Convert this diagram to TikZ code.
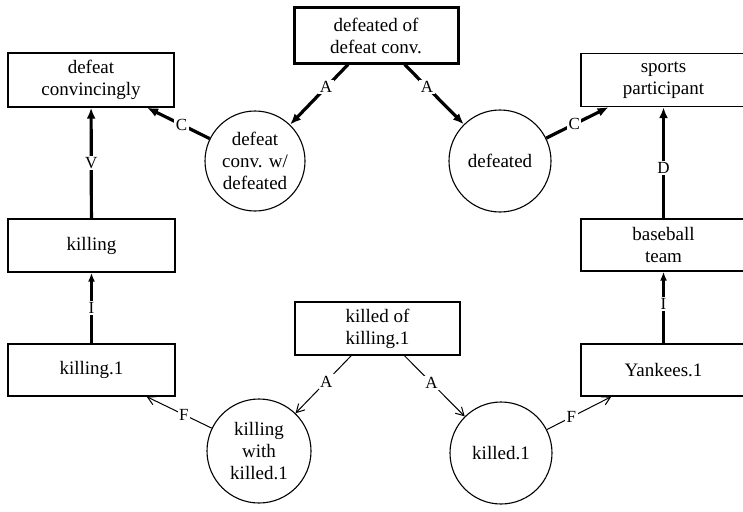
\documentclass[tikz,border=0pt]{standalone}
\usepackage{fontspec}
\setmainfont{Liberation Serif}
\usetikzlibrary{arrows.meta}
\begin{document}
\begin{tikzpicture}[x=1pt,y=-1pt,
  txt/.style={font=\fontsize{19}{22}\selectfont, align=center},
  box/.style={txt, draw, line width=1.4pt, inner sep=0pt, rectangle},
  circ/.style={txt, draw, line width=1.1pt, circle, inner sep=0pt},
  lab/.style={fill=white, inner sep=1.5pt, font=\fontsize{17}{17}\selectfont},
  heavy/.style={line width=3.2pt, -{Latex[length=11pt,width=9pt]}},
  medium/.style={line width=2.2pt, -{Latex[length=9pt,width=7pt]}},
  light/.style={line width=1pt, -{Straight Barb[length=8pt,width=9pt]}}
]
\useasboundingbox (0,0) rectangle (743,511);

% upper graph
\node[box, line width=3pt, minimum width=164pt, minimum height=55pt] (top) at (376,35.5) {defeated of\\defeat conv.};
\node[box, minimum width=166pt, minimum height=54pt] (dc) at (91,80) {defeat\\convincingly};
\node[box, minimum width=165pt, minimum height=53pt] (sp) at (663.5,80) {sports\\participant};
\node[circ, minimum size=100pt] (c1) at (255,161) {defeat\\conv. w/\\defeated};
\node[circ, minimum size=102pt] (c2) at (500,161) {defeated};
\node[box, minimum width=167pt, minimum height=53pt] (kl) at (91.5,245.5) {killing};
\node[box, minimum width=165pt, minimum height=52pt] (bt) at (663.5,245) {baseball\\team};

% lower graph
\node[box, minimum width=165pt, minimum height=53pt] (kk) at (377.5,328.5) {killed of\\killing.1};
\node[box, minimum width=167pt, minimum height=52pt] (k1) at (91.5,370) {killing.1};
\node[box, minimum width=165pt, minimum height=52pt] (y1) at (663.5,370) {Yankees.1};
\node[circ, minimum size=104pt] (c3) at (259,451) {killing\\with\\killed.1};
\node[circ, minimum size=102pt] (c4) at (501,453) {killed.1};

% connectors of the upper graph
\draw[heavy] (top) -- node[lab, pos=0.38] {A} (c1);
\draw[heavy] (top) -- node[lab, pos=0.38] {A} (c2);
\draw[heavy] (c1) -- node[lab, pos=0.45] {C} (dc);
\draw[heavy] (c2) -- node[lab, pos=0.45] {C} (sp);
\draw[heavy] (kl) -- node[lab, pos=0.5] {V} (dc);
\draw[heavy] (bt) -- node[lab, pos=0.45] {D} (sp);

% connectors of the lower graph
\draw[medium] (k1) -- node[lab, pos=0.5] {I} (kl);
\draw[medium] (y1) -- node[lab, pos=0.55] {I} (bt);
\draw[light] (kk) -- node[lab, pos=0.45] {A} (c3);
\draw[light] (kk) -- node[lab, pos=0.45] {A} (c4);
\draw[light] (c3) -- node[lab, pos=0.43] {F} (k1);
\draw[light] (c4) -- node[lab, pos=0.38] {F} (y1);
\end{tikzpicture}
\end{document}
